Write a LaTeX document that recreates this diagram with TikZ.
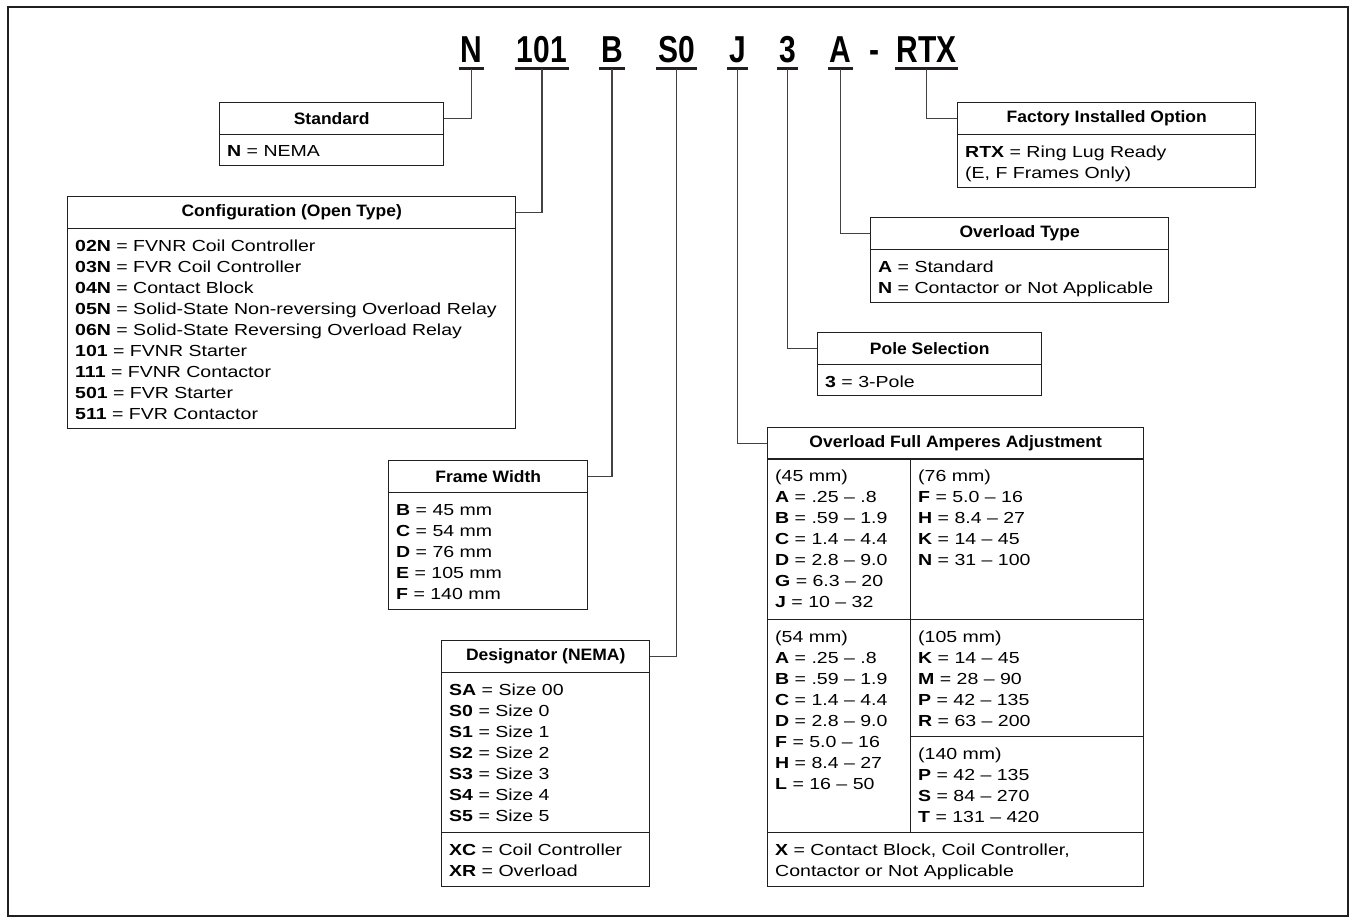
\documentclass[tikz,border=0pt]{standalone}
\usepackage{fontspec}
\setmainfont{Liberation Sans}[FakeStretch=1.22]
\newfontfamily\hdrfont{Liberation Sans}[FakeStretch=1.06]
\newfontfamily\codefont{Liberation Sans}[FakeStretch=0.8]
\usepackage{xcolor}
\definecolor{ink}{HTML}{231F20}
\newcommand{\optv}[2]{\textbf{#1} = #2}

\begin{document}
\begin{tikzpicture}[
    x=1pt, y=-1pt,
    hdr/.style={draw=ink,line width=1.4pt,anchor=north west,inner sep=0pt,minimum height=31.5pt,font=\hdrfont\bfseries\fontsize{16.5pt}{21pt}\selectfont},
    cell/.style={draw=ink,line width=1.4pt,anchor=north west,inner sep=0pt},
    txt/.style={anchor=north west,inner sep=0pt,align=left,font=\fontsize{16pt}{21pt}\selectfont},
    code/.style={anchor=base,inner sep=0pt,font=\codefont\bfseries\fontsize{37.5pt}{40pt}\selectfont},
    uline/.style={draw=ink,line width=2.8pt},
    conn/.style={draw=ink!85,line width=1.3pt},
]
    \useasboundingbox (0,0) rectangle (1356,922);
    \draw[ink,line width=1.5pt] (8,7) rectangle (1348,916);

    % catalog number
    \node[code] (cN) at (471.5,62) {N};
    \node[code] (c101) at (542,62) {101};
    \node[code] (cB) at (612,62) {B};
    \node[code] (cS0) at (676.5,62) {S0};
    \node[code] (cJ) at (737.5,62) {J};
    \node[code] (c3) at (787.5,62) {3};
    \node[code] (cA) at (840.5,62) {A};
    \node[code] (cdash) at (874,62) {-};
    \node[code] (cRTX) at (926.5,62) {RTX};
    \foreach \c in {cN,c101,cB,cS0,cJ,c3,cA,cRTX}
        \draw[uline] ([xshift=-1.5pt,yshift=-6.5pt]\c.base west) -- ([xshift=1.5pt,yshift=-6.5pt]\c.base east);

    % left column
    \node[hdr,minimum width=224pt] (stdh) at (219,102) {Standard};
    \node[cell,minimum width=224pt,minimum height=31.5pt] (std) at (219,133.5) {};
    \node[txt] at (227,145.5) {\optv{N}{NEMA}};

    \node[hdr,minimum width=448pt] (cfgh) at (67,196) {Configuration (Open Type)};
    \node[cell,minimum width=448pt,minimum height=200.5pt] (cfg) at (67,227.5) {};
    \node[txt] at (75,239.5) {\optv{02N}{FVNR Coil Controller}\\
        \optv{03N}{FVR Coil Controller}\\
        \optv{04N}{Contact Block}\\
        \optv{05N}{Solid-State Non-reversing Overload Relay}\\
        \optv{06N}{Solid-State Reversing Overload Relay}\\
        \optv{101}{FVNR Starter}\\
        \optv{111}{FVNR Contactor}\\
        \optv{501}{FVR Starter}\\
        \optv{511}{FVR Contactor}};

    \node[hdr,minimum width=199pt,minimum height=32pt] (frmh) at (388,460) {Frame Width};
    \node[cell,minimum width=199pt,minimum height=117pt] (frm) at (388,492) {};
    \node[txt] at (396,504) {\optv{B}{45 mm}\\ \optv{C}{54 mm}\\ \optv{D}{76 mm}\\
        \optv{E}{105 mm}\\ \optv{F}{140 mm}};

    \node[hdr,minimum width=208pt,minimum height=32pt] (dsgh) at (441,640) {Designator (NEMA)};
    \node[cell,minimum width=208pt,minimum height=160pt] (dsg) at (441,672) {};
    \node[cell,minimum width=208pt,minimum height=54pt] (dsgx) at (441,832) {};
    \node[txt] at (449,684) {\optv{SA}{Size 00}\\ \optv{S0}{Size 0}\\ \optv{S1}{Size 1}\\
        \optv{S2}{Size 2}\\ \optv{S3}{Size 3}\\ \optv{S4}{Size 4}\\ \optv{S5}{Size 5}};
    \node[txt] at (449,844) {\optv{XC}{Coil Controller}\\ \optv{XR}{Overload}};

    % right column
    \node[hdr,minimum width=298pt] (fach) at (957,102) {Factory Installed Option};
    \node[cell,minimum width=298pt,minimum height=53.5pt] (fac) at (957,133.5) {};
    \node[txt] at (965,145.5) {\optv{RTX}{Ring Lug Ready}\\ (E, F Frames Only)};

    \node[hdr,minimum width=298pt,minimum height=32pt] (ovth) at (870,217) {Overload Type};
    \node[cell,minimum width=298pt,minimum height=53pt] (ovt) at (870,249) {};
    \node[txt] at (878,261) {\optv{A}{Standard}\\ \optv{N}{Contactor or Not Applicable}};

    \node[hdr,minimum width=224pt] (polh) at (817,332) {Pole Selection};
    \node[cell,minimum width=224pt,minimum height=31.5pt] (pol) at (817,363.5) {};
    \node[txt] at (825,375.5) {\optv{3}{3-Pole}};

    \node[hdr,minimum width=376pt] (ofah) at (767,427) {Overload Full Amperes Adjustment};
    \node[cell,minimum width=143pt,minimum height=161pt] (ofa45) at (767,458) {};
    \node[cell,minimum width=233pt,minimum height=161pt] (ofa76) at (910,458) {};
    \node[cell,minimum width=143pt,minimum height=213pt] (ofa54) at (767,619) {};
    \node[cell,minimum width=233pt,minimum height=117pt] (ofa105) at (910,619) {};
    \node[cell,minimum width=233pt,minimum height=96pt] (ofa140) at (910,736) {};
    \node[cell,minimum width=376pt,minimum height=54pt] (ofax) at (767,832) {};
    \node[txt] at (775,470) {(45 mm)\\ \optv{A}{.25 -- .8}\\ \optv{B}{.59 -- 1.9}\\
        \optv{C}{1.4 -- 4.4}\\ \optv{D}{2.8 -- 9.0}\\ \optv{G}{6.3 -- 20}\\ \optv{J}{10 -- 32}};
    \node[txt] at (918,470) {(76 mm)\\ \optv{F}{5.0 -- 16}\\ \optv{H}{8.4 -- 27}\\
        \optv{K}{14 -- 45}\\ \optv{N}{31 -- 100}};
    \node[txt] at (775,631) {(54 mm)\\ \optv{A}{.25 -- .8}\\ \optv{B}{.59 -- 1.9}\\
        \optv{C}{1.4 -- 4.4}\\ \optv{D}{2.8 -- 9.0}\\ \optv{F}{5.0 -- 16}\\
        \optv{H}{8.4 -- 27}\\ \optv{L}{16 -- 50}};
    \node[txt] at (918,631) {(105 mm)\\ \optv{K}{14 -- 45}\\ \optv{M}{28 -- 90}\\
        \optv{P}{42 -- 135}\\ \optv{R}{63 -- 200}};
    \node[txt] at (918,748) {(140 mm)\\ \optv{P}{42 -- 135}\\ \optv{S}{84 -- 270}\\
        \optv{T}{131 -- 420}};
    \node[txt] at (775,844) {\optv{X}{Contact Block, Coil Controller,}\\ Contactor or Not Applicable};

    % leaders
    \draw[conn] (stdh.east) -| ([yshift=-6.5pt]cN.base);
    \draw[conn] (cfgh.east) -| ([yshift=-6.5pt]c101.base);
    \draw[conn] (frmh.east) -| ([yshift=-6.5pt]cB.base);
    \draw[conn] (dsgh.east) -| ([yshift=-6.5pt]cS0.base);
    \draw[conn] (ofah.west) -| ([yshift=-6.5pt]cJ.base);
    \draw[conn] (polh.west) -| ([yshift=-6.5pt]c3.base);
    \draw[conn] (ovth.west) -| ([yshift=-6.5pt]cA.base);
    \draw[conn] (fach.west) -| ([yshift=-6.5pt]cRTX.base);
\end{tikzpicture}
\end{document}
